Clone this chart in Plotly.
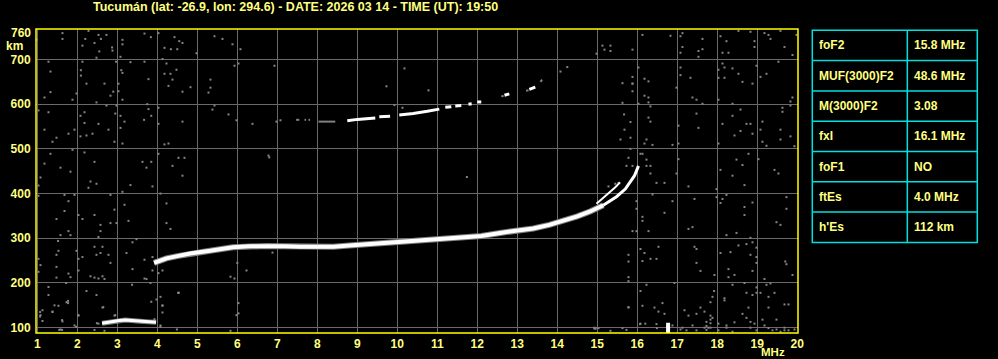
import plotly.graph_objects as go

# ---------------- data ----------------
TITLE = "Tucumán (lat: -26.9, lon: 294.6) - DATE: 2026 03 14 - TIME (UT): 19:50"
X_TICKS = list(range(1, 21))
Y_GRID = [100, 200, 300, 400, 500, 600, 700]
Y_TOP_LABEL = 760
X_UNIT = "MHz"
Y_UNIT = "km"

TABLE_PARAMS = ["foF2", "MUF(3000)F2", "M(3000)F2", "fxI", "foF1", "ftEs", "h'Es"]
TABLE_VALUES = ["15.8 MHz", "48.6 MHz", "3.08", "16.1 MHz", "NO", "4.0 MHz", "112 km"]

# F2 ordinary trace (MHz, km)
F2_FREQ = [3.92, 4.0, 4.23, 4.5, 4.82, 5.32, 5.89, 6.3, 6.73, 7.2, 7.57, 8.0, 8.4, 8.8,
           9.23, 9.6, 10.07, 10.5, 10.9, 11.3, 11.7, 12.1, 12.57, 13.0, 13.4, 13.8,
           14.23, 14.5, 14.82, 15.15]
F2_HEIGHT = [245, 248, 255, 260, 266, 272, 280, 282, 283, 282, 281, 281, 281, 284,
             287, 289, 292, 295, 298, 300, 302, 305, 312, 317, 322, 330,
             341, 349, 360, 374]
F2_TOP_FREQ = [15.15, 15.32, 15.48, 15.7, 15.82, 15.93, 16.03]
F2_TOP_HEIGHT = [374, 383, 393, 410, 425, 440, 462]
# split branch
F2_BRANCH_FREQ = [14.98, 15.15, 15.32, 15.45, 15.57]
F2_BRANCH_HEIGHT = [377, 390, 403, 414, 425]

# Sporadic E trace
ES_FREQ = [2.62, 2.75, 2.9, 3.05, 3.2, 3.35, 3.5, 3.65, 3.8, 3.97]
ES_HEIGHT = [110, 112, 114, 116, 117, 116, 114, 114, 113, 112]

# second-hop F trace (broken), None = gap
F2_HOP_FREQ = [8.75, 9.0, 9.45, None, 9.55, 9.82, None, 10.05, 10.4, 10.75, 11.05, None,
               11.2, 11.35, None, 11.45, 11.6, None, 11.78, 11.86, None, 12.0, 12.1, None,
               12.68, 12.8, None, 13.3, 13.45]
F2_HOP_HEIGHT = [563, 566, 569, None, 572, 573, None, 576, 579, 584, 589, None,
                 593, 594, None, 596, 597, None, 600, 601, None, 605, 605, None,
                 620, 623, None, 633, 638]
F2_HOP_FAINT_FREQ = [7.47, 7.55, None, 7.68, 7.72, None, 7.78, 7.82, None, 8.03, 8.45, None,
                     12.6, 12.66, None, 13.22, 13.28, None, 13.58, 13.62]
F2_HOP_FAINT_HEIGHT = [565, 565, None, 565, 565, None, 565, 565, None, 561, 561, None,
                       618, 618, None, 630, 631, None, 650, 655]

# interference bar near 16.8 MHz
SPIKE_FREQ = [16.77, 16.77]
SPIKE_HEIGHT = [88, 111]

# background noise dots (MHz, km)
NOISE_LEFT_TOP = [
    (1.63, 759), (1.63, 746), (2.28, 764), (2.53, 755), (2.73, 755), (2.59, 746), (2.20, 746),
    (2.43, 737), (2.13, 731), (3.13, 744), (3.13, 734), (3.68, 758), (3.84, 750), (4.03, 759),
    (4.43, 750), (4.55, 741), (4.63, 737), (4.18, 726), (4.34, 723), (4.50, 723), (4.98, 714),
    (2.55, 718), (2.87, 727), (2.88, 720), (2.48, 704), (3.08, 706), (0.98, 744), (1.28, 695),
    (1.33, 673), (2.13, 695), (2.09, 676), (2.09, 664), (2.23, 646), (2.68, 646), (2.90, 628),
    (2.83, 619), (3.03, 629), (3.03, 646), (2.97, 695), (3.33, 694), (3.10, 676), (3.13, 670),
    (3.68, 695), (3.78, 656), (4.13, 701), (4.23, 691), (4.18, 668), (4.33, 668), (4.48, 677),
    (4.38, 655), (4.28, 641), (4.63, 628), (4.83, 638), (3.13, 610), (1.33, 627), (1.18, 615),
    (1.88, 610), (1.98, 624), (2.48, 604), (2.73, 597), (2.98, 597), (3.75, 600), (3.78, 589),
    (3.85, 574), (3.67, 565), (4.03, 592), (4.03, 556), (4.63, 561), (3.08, 574), (3.18, 561),
    (3.08, 547), (3.13, 512), (2.95, 579), (2.18, 582), (2.08, 574), (2.18, 558), (2.53, 556),
    (2.78, 543), (2.93, 516), (2.38, 534), (2.23, 530), (2.08, 528), (1.93, 543), (1.78, 534),
    (1.48, 525), (1.38, 516), (1.18, 543), (1.03, 586), (1.28, 582), (4.18, 510), (4.28, 512),
    (1.88, 498), (2.18, 492), (2.43, 471), (1.33, 489), (1.18, 467), (1.58, 458), (1.83, 449),
    (1.08, 436), (4.03, 489), (4.53, 480), (4.68, 480), (4.38, 462), (4.63, 440), (3.63, 471),
    (3.85, 471), (3.73, 458),
]
NOISE_LEFT_BOTTOM = [
    (1.03, 418), (2.33, 427), (2.48, 422), (2.28, 413), (1.68, 397), (1.93, 397), (1.78, 383),
    (1.68, 361), (1.48, 343), (2.03, 352), (2.13, 343), (2.43, 352), (2.58, 330), (2.58, 316),
    (2.53, 303), (1.58, 307), (1.78, 316), (1.83, 307), (2.83, 397), (2.93, 364), (2.83, 334),
    (2.98, 334), (3.18, 375), (3.28, 339), (3.13, 404), (3.33, 419), (3.88, 416), (4.08, 400),
    (4.23, 378), (4.23, 334), (4.33, 321), (3.48, 298), (3.38, 291), (1.52, 294), (1.53, 272),
    (1.48, 263), (1.03, 254), (1.48, 236), (1.03, 225), (1.48, 212), (1.78, 221), (1.83, 213),
    (1.98, 272), (2.03, 254), (2.13, 258), (2.43, 281), (2.63, 281), (2.58, 267), (2.78, 263),
    (2.48, 263), (3.23, 267), (2.83, 245), (2.03, 228), (3.38, 231), (3.68, 252), (3.88, 258),
    (3.88, 228), (4.13, 228), (4.03, 222), (2.43, 212), (2.53, 210), (2.63, 215), (2.68, 209),
    (3.37, 196), (3.68, 210), (3.73, 209), (3.83, 200), (1.28, 191), (1.28, 173), (1.72, 200),
    (2.23, 182), (2.48, 173), (1.53, 149), (1.38, 136), (1.73, 157), (1.77, 155), (1.13, 139),
    (1.08, 128), (1.13, 115), (1.63, 114), (2.03, 127), (2.63, 145), (2.93, 127), (3.85, 158),
    (3.98, 163), (4.08, 169), (4.13, 149), (4.13, 134), (4.53, 178), (3.93, 119), (4.08, 105),
    (2.53, 109), (1.58, 96), (1.93, 105), (2.33, 215), (1.07, 125), (1.07, 135), (1.38, 135),
    (1.43, 150), (1.62, 117), (1.77, 160), (1.55, 95), (1.62, 95), (2.03, 128), (1.97, 102),
    (2.49, 110), (2.65, 146), (2.95, 128), (2.43, 95), (2.68, 93), (4.13, 150), (4.08, 102),
    (4.49, 96), (4.53, 178), (1.03, 395), (1.08, 240),
]
NOISE_MID = [
    (5.43, 752), (5.63, 746), (5.88, 734), (6.08, 723), (6.03, 691), (5.93, 686), (6.93, 686),
    (5.33, 655), (5.33, 637), (5.28, 626), (5.43, 597), (5.38, 588), (5.78, 577), (5.98, 564),
    (6.38, 556), (6.98, 561), (7.08, 564), (6.78, 485), (10.18, 680), (9.73, 640), (10.78, 631),
    (9.93, 598), (10.13, 592), (6.03, 155), (6.03, 132), (5.98, 128), (5.83, 93), (6.8, 481),
    (11.74, 437), (6.0, 245), (6.23, 228), (5.83, 214), (5.93, 210), (6.88, 268), (4.53, 178),
    (14.08, 673), (14.25, 683), (15.88, 661), (15.88, 646), (16.18, 657), (16.28, 651),
    (15.63, 647), (15.67, 577), (15.83, 560), (16.28, 604), (16.33, 595),
]
NOISE_RIGHT_TOP = [
    (14.98, 713), (15.13, 731), (15.18, 722), (15.33, 731), (15.33, 719), (15.88, 722),
    (16.13, 755), (16.83, 753), (17.08, 752), (17.13, 759), (17.08, 715), (17.13, 728),
    (17.53, 719), (17.63, 746), (17.63, 723), (17.53, 706), (18.08, 752), (18.23, 741),
    (18.53, 764), (18.83, 762), (18.93, 741), (18.93, 728), (19.18, 759), (19.28, 755),
    (19.33, 746), (19.58, 764), (19.68, 728), (19.88, 710), (19.98, 755), (18.13, 715),
    (18.28, 715), (16.03, 682), (15.88, 646), (15.88, 629), (16.18, 619), (16.28, 615),
    (15.63, 603), (16.03, 601), (16.98, 637), (17.08, 682), (17.08, 665), (17.33, 659),
    (17.38, 615), (17.48, 610), (17.63, 601), (18.03, 677), (18.03, 659), (18.13, 691),
    (18.18, 682), (18.18, 659), (18.38, 680), (18.53, 668), (18.63, 650), (18.88, 646),
    (18.98, 686), (19.08, 661), (19.23, 668), (19.53, 695), (18.03, 610), (18.38, 601),
    (18.58, 588), (18.38, 574), (18.73, 556), (18.83, 556), (19.13, 561), (19.08, 543),
    (18.88, 534), (18.43, 530), (18.58, 540), (18.13, 556), (17.53, 547), (17.48, 579),
    (17.03, 552), (16.28, 570), (16.33, 561), (15.68, 543), (15.58, 521), (15.83, 525),
    (16.23, 521), (16.18, 512), (16.38, 509), (16.88, 509), (17.03, 512), (18.03, 512),
    (19.63, 592), (19.63, 583), (19.83, 597), (19.88, 615), (19.83, 606), (19.58, 543),
    (19.83, 528), (19.58, 521), (19.13, 516), (19.23, 507), (19.93, 506), (15.83, 500),
    (15.78, 480), (15.88, 462), (16.08, 489), (16.13, 489), (16.23, 476), (16.23, 462),
    (16.33, 462), (16.33, 445), (17.03, 477), (16.98, 445), (18.08, 453), (18.38, 440),
    (18.48, 476), (18.63, 464), (18.78, 489), (19.03, 477), (19.53, 445), (19.43, 453),
]
NOISE_RIGHT_BOTTOM = [
    (15.28, 416), (15.45, 422), (15.53, 424), (15.88, 433), (15.98, 383), (15.98, 366),
    (16.13, 348), (16.13, 339), (15.88, 316), (15.98, 316), (16.28, 316), (16.38, 398),
    (16.48, 424), (16.68, 424), (16.88, 383), (16.68, 357), (17.28, 416), (17.43, 388),
    (17.28, 321), (17.38, 325), (17.98, 410), (17.98, 392), (18.13, 388), (18.08, 379),
    (18.23, 397), (18.68, 419), (18.68, 370), (18.68, 352), (18.88, 380), (19.73, 392),
    (19.73, 366), (19.48, 336), (19.58, 330), (18.23, 307), (18.48, 312), (18.83, 301),
    (18.88, 291), (18.73, 287), (18.53, 284), (18.98, 279), (15.78, 263), (15.78, 248),
    (16.08, 276), (16.18, 267), (16.13, 249), (16.33, 254), (16.48, 254), (16.53, 281),
    (17.43, 281), (17.48, 276), (17.48, 245), (17.58, 227), (17.93, 218), (18.08, 267),
    (18.33, 269), (18.28, 231), (18.28, 213), (18.43, 218), (18.83, 263), (18.98, 258),
    (18.98, 245), (18.88, 227), (19.18, 209), (19.70, 248), (19.73, 242), (19.88, 218),
    (19.23, 196), (19.33, 199), (18.98, 190), (18.98, 178), (18.88, 173), (18.73, 178),
    (19.08, 178), (19.28, 169), (19.43, 178), (18.38, 196), (18.68, 200), (17.92, 182),
    (17.88, 169), (18.18, 166), (18.18, 161), (17.83, 157), (15.78, 213), (15.78, 204),
    (16.23, 196), (16.08, 182), (15.78, 145), (16.13, 149), (16.43, 145), (16.63, 155),
    (16.53, 136), (16.68, 131), (16.93, 200), (17.18, 139), (17.28, 127), (17.48, 131),
    (17.58, 145), (17.68, 136), (17.83, 127), (18.03, 109), (18.23, 105), (18.43, 112),
    (18.63, 131), (18.73, 122), (18.78, 145), (18.83, 113), (18.93, 109), (19.13, 118),
    (19.18, 105), (19.28, 145), (19.48, 118), (19.68, 152), (19.78, 152), (19.68, 100),
    (14.93, 100), (15.03, 99), (15.33, 93), (16.08, 109), (16.48, 108), (16.88, 105),
    (17.08, 96), (17.13, 100), (17.23, 94), (17.38, 105), (17.48, 94), (17.68, 100),
    (17.73, 113), (17.78, 100), (17.88, 122), (18.03, 94), (18.23, 100), (18.38, 91),
    (18.83, 100), (18.98, 94), (19.28, 99), (19.38, 94), (19.48, 96), (19.58, 91),
    (19.68, 94), (19.78, 94), (19.93, 96), (17.83, 100), (17.83, 110), (17.83, 118),
    (17.73, 95), (17.73, 104), (14.93, 98), (14.96, 98), (15.63, 99), (15.73, 95),
    (16.07, 108), (16.2, 109), (16.49, 99), (15.78, 146), (15.73, 462),
]

# ---------------- styles / layout constants ----------------
W, H = 998, 359
PLOT_L, PLOT_R, PLOT_T, PLOT_B = 36, 798, 29, 333
TXT = "#ffff80"
BORDER = "#ffff00"
GRID = "#6a6a6a"
NOISE_C = "#858585"
CYAN = "#00e0e0"
FONT = "Liberation Sans"
NARROW_FONT = "Liberation Sans Narrow, Liberation Sans"


def px2x(px):
    return (px - PLOT_L) / (PLOT_R - PLOT_L)


def py2y(py):
    return (PLOT_B - py) / (PLOT_B - PLOT_T)


fig = go.Figure()

# noise
noise = NOISE_LEFT_TOP + NOISE_LEFT_BOTTOM + NOISE_MID + NOISE_RIGHT_TOP + NOISE_RIGHT_BOTTOM
fig.add_trace(go.Scatter(x=[p[0] for p in noise], y=[p[1] for p in noise], mode="markers",
                         marker=dict(symbol="square", size=2, color=NOISE_C, line=dict(width=0)),
                         hoverinfo="skip"))

# gray fringes under traces
fig.add_trace(go.Scatter(x=F2_FREQ, y=F2_HEIGHT, mode="lines",
                         line=dict(color="#808080", width=6), hoverinfo="skip"))
fig.add_trace(go.Scatter(x=ES_FREQ, y=ES_HEIGHT, mode="lines",
                         line=dict(color="#808080", width=5), hoverinfo="skip"))
fig.add_trace(go.Scatter(x=F2_HOP_FAINT_FREQ, y=F2_HOP_FAINT_HEIGHT, mode="lines",
                         line=dict(color="#808080", width=2), connectgaps=False, hoverinfo="skip"))

# white traces
fig.add_trace(go.Scatter(x=F2_FREQ, y=F2_HEIGHT, mode="lines",
                         line=dict(color="white", width=4), hoverinfo="skip"))
fig.add_trace(go.Scatter(x=F2_TOP_FREQ, y=F2_TOP_HEIGHT, mode="lines",
                         line=dict(color="white", width=3), hoverinfo="skip"))
fig.add_trace(go.Scatter(x=F2_BRANCH_FREQ, y=F2_BRANCH_HEIGHT, mode="lines",
                         line=dict(color="white", width=2), hoverinfo="skip"))
fig.add_trace(go.Scatter(x=ES_FREQ, y=ES_HEIGHT, mode="lines",
                         line=dict(color="white", width=3), hoverinfo="skip"))
fig.add_trace(go.Scatter(x=F2_HOP_FREQ, y=F2_HOP_HEIGHT, mode="lines",
                         line=dict(color="white", width=3), connectgaps=False, hoverinfo="skip"))
fig.add_trace(go.Scatter(x=SPIKE_FREQ, y=SPIKE_HEIGHT, mode="lines",
                         line=dict(color="white", width=4), hoverinfo="skip"))

tickfont = dict(family=FONT, size=12, color=TXT, weight="bold")

fig.update_layout(
    width=W, height=H,
    margin=dict(l=PLOT_L, r=W - PLOT_R, t=PLOT_T, b=H - PLOT_B, pad=0, autoexpand=False),
    paper_bgcolor="black", plot_bgcolor="black",
    showlegend=False,
    xaxis=dict(range=[0.968, 20.018], tickvals=X_TICKS, ticktext=[str(v) for v in X_TICKS],
               showgrid=True, gridcolor=GRID, gridwidth=1, zeroline=False, showline=False,
               automargin=False, ticklabelstandoff=2,
               ticks="", tickfont=tickfont, fixedrange=True),
    yaxis=dict(range=[88.1, 768.2], tickvals=Y_GRID, ticktext=[str(v) for v in Y_GRID],
               showgrid=True, gridcolor=GRID, gridwidth=1, zeroline=False, showline=False,
               automargin=False,
               ticks="outside", ticklen=2, tickcolor="black", tickfont=tickfont, fixedrange=True),
)

shapes = [dict(type="rect", xref="paper", yref="paper", x0=0, x1=1, y0=0, y1=1,
               line=dict(color=BORDER, width=1.5), layer="above")]

annotations = [
    dict(text=TITLE, xref="paper", yref="paper", x=px2x(91), y=py2y(6.7), xanchor="left",
         yanchor="middle", showarrow=False, font=dict(family=FONT, size=12.5, color=TXT, weight="bold")),
    dict(text=str(Y_TOP_LABEL), xref="paper", yref="y", x=px2x(33), y=Y_TOP_LABEL, xanchor="right",
         yanchor="middle", showarrow=False, font=tickfont),
    dict(text=Y_UNIT, xref="paper", yref="paper", x=px2x(4), y=py2y(46), xanchor="left",
         yanchor="middle", showarrow=False, font=tickfont),
    dict(text=X_UNIT, xref="paper", yref="paper", x=px2x(787), y=py2y(351.5), xanchor="right",
         yanchor="middle", showarrow=False,
         font=dict(family=NARROW_FONT, size=11.5, color=TXT, weight="bold")),
]

# parameter table
T_L, T_M, T_R, T_TOP, ROW_H = 812.3, 907.3, 977.3, 30.3, 30.3
n = len(TABLE_PARAMS)
T_BOT = T_TOP + n * ROW_H
shapes.append(dict(type="rect", xref="paper", yref="paper", x0=px2x(T_L), x1=px2x(T_R),
                   y0=py2y(T_BOT), y1=py2y(T_TOP), line=dict(color=CYAN, width=1.5)))
shapes.append(dict(type="line", xref="paper", yref="paper", x0=px2x(T_M), x1=px2x(T_M),
                   y0=py2y(T_BOT), y1=py2y(T_TOP), line=dict(color=CYAN, width=1.5)))
for i in range(1, n):
    yy = py2y(T_TOP + i * ROW_H)
    shapes.append(dict(type="line", xref="paper", yref="paper", x0=px2x(T_L), x1=px2x(T_R),
                       y0=yy, y1=yy, line=dict(color=CYAN, width=1.5)))
for i, (p, v) in enumerate(zip(TABLE_PARAMS, TABLE_VALUES)):
    yc = py2y(T_TOP + (i + 0.5) * ROW_H)
    annotations.append(dict(text=p, xref="paper", yref="paper", x=px2x(T_L + 5), y=yc,
                            xanchor="left", yanchor="middle", showarrow=False, font=tickfont))
    annotations.append(dict(text=v, xref="paper", yref="paper", x=px2x(T_M + 5), y=yc,
                            xanchor="left", yanchor="middle", showarrow=False, font=tickfont))

fig.update_layout(shapes=shapes, annotations=annotations)
fig.write_html("out.html")
